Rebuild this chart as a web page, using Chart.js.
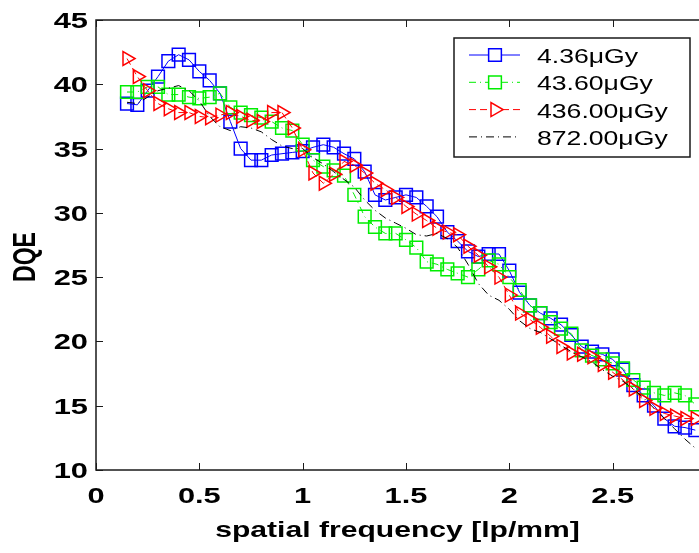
<!DOCTYPE html>
<html>
<head>
<meta charset="utf-8">
<title>DQE vs spatial frequency</title>
<script src="https://cdn.jsdelivr.net/npm/chart.js@4.4.0/dist/chart.umd.min.js"></script>
<style>
  html, body { margin: 0; padding: 0; overflow: hidden; background: #fff; }
  #wrap { width: 740px; height: 553px; }
</style>
</head>
<body>
<div id="wrap"><canvas id="dqeChart" width="740" height="553"></canvas></div>
<script>
// spatial frequency [lp/mm]
const freq = [0.15, 0.20, 0.25, 0.30, 0.35, 0.40, 0.45, 0.50, 0.55, 0.60,
              0.65, 0.70, 0.75, 0.80, 0.85, 0.90, 0.95, 1.00, 1.05, 1.10,
              1.15, 1.20, 1.25, 1.30, 1.35, 1.40, 1.45, 1.50, 1.55, 1.60,
              1.65, 1.70, 1.75, 1.80, 1.85, 1.90, 1.95, 2.00, 2.05, 2.10,
              2.15, 2.20, 2.25, 2.30, 2.35, 2.40, 2.45, 2.50, 2.55, 2.60,
              2.65, 2.70, 2.75, 2.80, 2.85, 2.90];

const dqe4_36 = [38.5, 38.4, 39.5, 40.6, 41.8, 42.3, 41.9, 41.0, 40.3, 39.3,
                 37.1, 35.0, 34.1, 34.1, 34.5, 34.6, 34.7, 34.8, 35.1, 35.3,
                 35.1, 34.6, 34.2, 33.2, 31.4, 31.0, 31.2, 31.4, 31.2, 30.5,
                 29.7, 28.5, 27.8, 27.0, 26.6, 26.8, 26.8, 25.5, 23.8, 22.8,
                 22.2, 21.8, 21.3, 20.5, 19.6, 19.2, 19.0, 18.6, 17.8, 16.6,
                 15.8, 15.0, 14.0, 13.4, 13.3, 13.1];

const dqe43_6 = [39.4, 39.4, 39.8, 39.8, 39.2, 39.2, 39.0, 38.9, 39.0, 39.3,
                 38.2, 37.8, 37.6, 37.4, 37.1, 36.6, 36.4, 35.3, 34.1, 33.6,
                 33.3, 32.9, 31.4, 29.7, 28.9, 28.4, 28.4, 27.9, 27.3, 26.2,
                 26.0, 25.6, 25.3, 25.0, 25.6, 26.3, 26.0, 25.0, 24.0, 22.8,
                 22.2, 21.5, 21.0, 20.6, 19.3, 18.9, 18.6, 18.3, 17.9, 17.0,
                 16.4, 16.0, 15.8, 16.0, 15.8, 15.1];

const dqe436 = [42.0, 40.6, 39.5, 38.5, 38.1, 37.8, 37.8, 37.5, 37.4, 37.6,
                37.8, 37.5, 37.2, 37.1, 37.8, 37.8, 36.6, 34.9, 33.1, 32.3,
                33.0, 34.0, 33.7, 33.1, 32.3, 31.8, 31.2, 30.5, 29.9, 29.4,
                28.8, 28.5, 28.3, 27.4, 26.7, 25.8, 25.0, 23.6, 22.2, 21.7,
                21.1, 20.4, 19.6, 19.1, 19.0, 18.8, 18.2, 17.6, 17.0, 16.3,
                15.4, 14.8, 14.4, 14.2, 14.0, 14.0];

const dqe872 = [38.6, 38.5, 39.0, 39.5, 39.7, 39.9, 39.5, 38.7, 37.5, 36.7,
                36.4, 36.7, 36.6, 36.3, 35.7, 35.2, 35.0, 35.0, 34.3, 33.8,
                33.2, 32.6, 32.0, 31.0, 30.2, 29.6, 29.2, 28.8, 28.3, 28.2,
                28.4, 28.0, 27.3, 26.0, 24.5, 23.6, 23.2, 22.5, 21.6, 21.0,
                20.7, 20.2, 19.7, 19.2, 18.8, 18.4, 17.8, 17.3, 16.9, 16.3,
                15.6, 14.8, 14.0, 13.2, 12.4, 11.7];

const seriesLabels = ['4.36\u03BCGy', '43.60\u03BCGy', '436.00\u03BCGy', '872.00\u03BCGy'];
const xTickValues = [0, 0.5, 1, 1.5, 2, 2.5, 3];
const yTickValues = [10, 15, 20, 25, 30, 35, 40, 45];
const xTitle = 'spatial frequency [lp/mm]';
const yTitle = 'DQE';

const toPoints = vals => freq.map((f, i) => ({ x: f, y: vals[i] }));

const FONT = '"Liberation Sans", Arial, Helvetica, sans-serif';
const STRETCH = 1.4;   // the original figure text is wide

function wideText(ctx, text, x, y, align, font, sx, rot) {
    ctx.save();
    ctx.translate(x, y);
    ctx.scale(sx, 1);
    if (rot) ctx.rotate(rot);
    ctx.font = font;
    ctx.textAlign = align;
    ctx.textBaseline = 'alphabetic';
    ctx.fillStyle = '#000';
    ctx.fillText(text, 0, 0);
    ctx.restore();
}

// MATLAB style box, inward ticks, labels and boxed legend
const matlabAxes = {
    id: 'matlabAxes',
    afterDraw(chart) {
        const ctx = chart.ctx;
        const a = chart.chartArea;
        const xs = chart.scales.x, ys = chart.scales.y;
        ctx.save();
        ctx.strokeStyle = '#1a1a1a';
        ctx.lineWidth = 1.5;
        ctx.strokeRect(a.left, a.top, a.right - a.left, a.bottom - a.top);
        ctx.beginPath();
        xs.ticks.forEach(t => {
            const px = Math.round(xs.getPixelForValue(t.value)) + 0.5;
            ctx.moveTo(px, a.bottom); ctx.lineTo(px, a.bottom - 7);
            ctx.moveTo(px, a.top); ctx.lineTo(px, a.top + 7);
        });
        ys.ticks.forEach(t => {
            const py = Math.round(ys.getPixelForValue(t.value)) + 0.5;
            ctx.moveTo(a.left, py); ctx.lineTo(a.left + 7, py);
            ctx.moveTo(a.right, py); ctx.lineTo(a.right - 7, py);
        });
        ctx.lineWidth = 1;
        ctx.stroke();

        // tick labels and axis titles
        const bold = 'bold 22px ' + FONT;
        xs.ticks.forEach(t => {
            wideText(ctx, String(t.value), xs.getPixelForValue(t.value), a.bottom + 33, 'center', bold, STRETCH);
        });
        ys.ticks.forEach(t => {
            wideText(ctx, String(t.value), a.left - 8, ys.getPixelForValue(t.value) + 8, 'right', bold, STRETCH);
        });
        wideText(ctx, xTitle, (a.left + 699) / 2, a.bottom + 67, 'center', 'bold 21.5px ' + FONT, STRETCH);
        wideText(ctx, yTitle, 35, (a.top + a.bottom) / 2 + 12, 'center', 'bold 23px ' + FONT, STRETCH, -Math.PI / 2);

        // legend
        const bx = 454, by = 38, bw = 236, bh = 119;
        ctx.fillStyle = '#fff';
        ctx.fillRect(bx, by, bw, bh);
        ctx.strokeStyle = '#1a1a1a';
        ctx.lineWidth = 1.5;
        ctx.strokeRect(bx, by, bw, bh);
        chart.data.datasets.forEach((ds, i) => {
            const cy = by + 17 + i * 27.3;
            ctx.save();
            ctx.strokeStyle = ds.borderColor;
            ctx.lineWidth = 1;
            ctx.setLineDash(ds.borderDash || []);
            ctx.beginPath();
            ctx.moveTo(bx + 15, cy);
            ctx.lineTo(bx + 66, cy);
            ctx.stroke();
            ctx.setLineDash([]);
            if (ds.pointRadius > 0) {
                ctx.fillStyle = '#fff';
                ctx.strokeStyle = ds.borderColor;
                ctx.lineWidth = ds.pointBorderWidth;
                Chart.helpers.drawPoint(ctx, {
                    pointStyle: ds.pointStyle,
                    rotation: ds.pointRotation || 0,
                    radius: ds.pointRadius,
                    borderWidth: ds.pointBorderWidth
                }, bx + 41, cy);
            }
            ctx.restore();
            wideText(ctx, ds.label, bx + 83, cy + 8, 'left', '20px ' + FONT, 1.33);
        });
        ctx.restore();
    }
};

new Chart(document.getElementById('dqeChart'), {
    type: 'scatter',
    data: {
        datasets: [
            {
                label: seriesLabels[0], data: toPoints(dqe4_36), showLine: true,
                borderColor: '#0000ff', borderWidth: 1, borderDash: [],
                pointStyle: 'rect', pointRadius: 9, pointBorderWidth: 1.5,
                pointBackgroundColor: 'rgba(0,0,0,0)', pointBorderColor: '#0000ff', order: 4
            },
            {
                label: seriesLabels[1], data: toPoints(dqe43_6), showLine: true,
                borderColor: '#00ee00', borderWidth: 1, borderDash: [7, 4, 1, 4],
                pointStyle: 'rect', pointRadius: 9, pointBorderWidth: 1.5,
                pointBackgroundColor: 'rgba(0,0,0,0)', pointBorderColor: '#00ee00', order: 3
            },
            {
                label: seriesLabels[2], data: toPoints(dqe436), showLine: true,
                borderColor: '#ff0000', borderWidth: 1, borderDash: [7, 4],
                pointStyle: 'triangle', pointRotation: 90, pointRadius: 8, pointBorderWidth: 1.5,
                pointBackgroundColor: 'rgba(0,0,0,0)', pointBorderColor: '#ff0000', order: 2
            },
            {
                label: seriesLabels[3], data: toPoints(dqe872), showLine: true,
                borderColor: '#000000', borderWidth: 1, borderDash: [8, 4, 1, 4],
                pointRadius: 0, order: 1
            }
        ]
    },
    options: {
        responsive: false,
        animation: false,
        layout: { padding: { top: 20, right: 24, left: 0, bottom: 0 } },
        plugins: { legend: { display: false }, tooltip: { enabled: false } },
        scales: {
            x: {
                type: 'linear', min: 0, max: 3,
                grid: { display: false, drawTicks: false },
                border: { display: false },
                afterBuildTicks: s => { s.ticks = xTickValues.map(v => ({ value: v })); },
                afterFit: s => { s.height = 83; },
                ticks: { display: false }
            },
            y: {
                type: 'linear', min: 10, max: 45,
                grid: { display: false, drawTicks: false },
                border: { display: false },
                afterBuildTicks: s => { s.ticks = yTickValues.map(v => ({ value: v })); },
                afterFit: s => { s.width = 96; },
                ticks: { display: false }
            }
        }
    },
    plugins: [matlabAxes]
});
</script>
</body>
</html>
